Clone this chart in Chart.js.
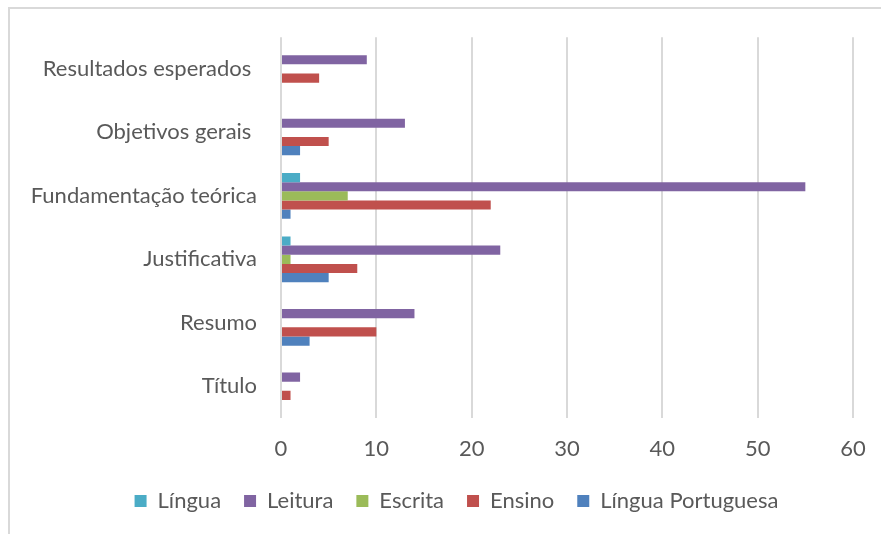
<!DOCTYPE html>
<html><head><meta charset="utf-8">
<script src="https://cdn.jsdelivr.net/npm/chart.js@4"></script>
<style>
html,body{margin:0;padding:0;background:#fff;}
#wrap{position:relative;width:881px;height:534px;overflow:hidden;background:#fff;}
#frame{position:absolute;left:8px;top:7px;width:900px;height:600px;border-top:2px solid #d9d9d9;border-left:2px solid #d9d9d9;}
canvas{position:absolute;left:0;top:0;}
</style></head><body>
<div id="wrap"><div id="frame"></div><canvas id="c" width="881" height="534"></canvas></div>
<script>
const categories = ["Resultados esperados ", "Objetivos gerais ", "Fundamentação teórica", "Justificativa", "Resumo", "Título"];
const seriesNames = ["Língua", "Leitura", "Escrita", "Ensino", "Língua Portuguesa"];
const lingua = [0, 0, 2, 1, 0, 0];
const leitura = [9, 13, 55, 23, 14, 2];
const escrita = [0, 0, 7, 1, 0, 0];
const ensino = [4, 5, 22, 8, 10, 1];
const linguaPortuguesa = [0, 2, 1, 5, 3, 0];
const xTicks = [0, 10, 20, 30, 40, 50, 60];

const colors = ["#4BACC6", "#8064A2", "#9BBB59", "#C0504D", "#4F81BD"];
const textColor = "#595959";
const fontFamily = "Lato, 'Open Sans', sans-serif";
const fontSize = 22;

const seriesData = [lingua, leitura, escrita, ensino, linguaPortuguesa];

const legendShift = {
  id: 'legendShift',
  afterLayout(chart) { if (chart.legend) { chart.legend.left += 60; } }
};

new Chart(document.getElementById('c'), {
  type: 'bar',
  data: {
    labels: categories,
    datasets: seriesNames.map((n, i) => ({
      label: n,
      data: seriesData[i],
      backgroundColor: colors[i],
      borderWidth: 0,
      categoryPercentage: 0.72,
      barPercentage: 1.0
    }))
  },
  plugins: [legendShift],
  options: {
    indexAxis: 'y',
    responsive: false,
    animation: false,
    devicePixelRatio: 1,
    layout: { padding: { top: 37, left: 0, right: 28, bottom: 12 } },
    plugins: {
      tooltip: { enabled: false },
      legend: {
        position: 'bottom',
        labels: {
          boxWidth: 12, boxHeight: 12, padding: 23,
          color: textColor,
          font: { family: fontFamily, size: fontSize }
        }
      }
    },
    scales: {
      x: {
        min: 0, max: 60,
        afterBuildTicks: s => { s.ticks = xTicks.map(v => ({ value: v })); },
        grid: { color: '#d9d9d9', lineWidth: 2, drawTicks: false },
        border: { display: false },
        ticks: { padding: 18, color: textColor, font: { family: fontFamily, size: fontSize } },
        afterFit: s => { s.height = 49; s.paddingLeft = 0; s.paddingRight = 0; }
      },
      y: {
        grid: { display: false, drawTicks: false },
        border: { display: false },
        ticks: { padding: 24, color: textColor, font: { family: fontFamily, size: fontSize }, autoSkip: false },
        afterFit: s => { s.width = 281; }
      }
    }
  }
});
</script>
</body></html>
